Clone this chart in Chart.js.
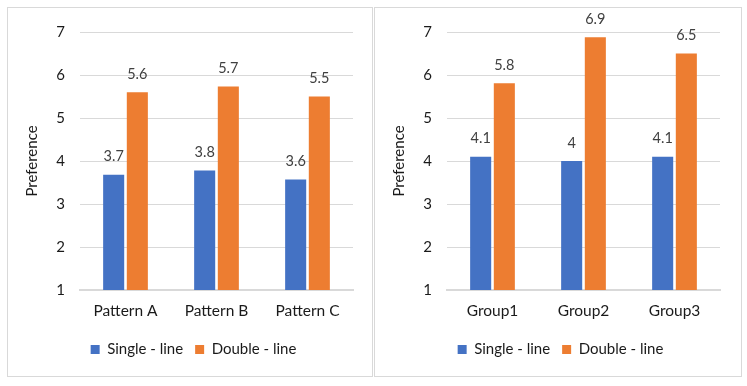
<!DOCTYPE html>
<html>
<head>
<meta charset="utf-8">
<script src="https://cdn.jsdelivr.net/npm/chart.js@4/dist/chart.umd.min.js"></script>
<style>
  body { margin: 0; background: #fff; }
  .panel { position: absolute; top: 7px; height: 370px; border: 1px solid #d9d9d9; box-sizing: border-box; }
  #p1 { left: 7px; width: 366px; }
  #p2 { left: 374px; width: 368px; }
  canvas { display: block; }
</style>
</head>
<body>
<div class="panel" id="p1"><canvas id="chartA" width="364" height="368"></canvas></div>
<div class="panel" id="p2"><canvas id="chartB" width="366" height="368"></canvas></div>
<script>
const patterns = ['Pattern A', 'Pattern B', 'Pattern C'];
const patternSingle = [3.68, 3.78, 3.57];
const patternDouble = [5.6, 5.73, 5.5];

const groups = ['Group1', 'Group2', 'Group3'];
const groupSingle = [4.1, 4.0, 4.1];
const groupDouble = [5.81, 6.88, 6.5];

const seriesNames = ['Single - line', 'Double - line'];
const yTicks = [1, 2, 3, 4, 5, 6, 7];

const blue = '#4472C4';
const orange = '#ED7D31';
const fontFamily = 'Lato, "Open Sans", sans-serif';

// draws the value above each bar, like the excel data labels
const barLabels = {
  id: 'barLabels',
  afterDatasetsDraw(chart) {
    const ctx = chart.ctx;
    ctx.save();
    ctx.font = '14.5px ' + fontFamily;
    ctx.fillStyle = '#404040';
    ctx.textAlign = 'center';
    ctx.textBaseline = 'middle';
    chart.data.datasets.forEach((ds, i) => {
      chart.getDatasetMeta(i).data.forEach((bar, j) => {
        const txt = String(Number(ds.data[j].toFixed(1)));
        ctx.fillText(txt, bar.x, bar.y - 18);
      });
    });
    ctx.restore();
  }
};

function makeChart(id, cats, single, double, rightPad) {
  return new Chart(document.getElementById(id), {
    type: 'bar',
    data: {
      labels: cats,
      datasets: [
        { label: seriesNames[0], data: single, backgroundColor: blue },
        { label: seriesNames[1], data: double, backgroundColor: orange }
      ]
    },
    options: {
      responsive: false,
      animation: false,
      categoryPercentage: 0.52,
      barPercentage: 0.89,
      // left padding mostly there to push the legend to the right like excel does
      layout: { padding: { top: 21, right: rightPad, bottom: 9, left: 26 } },
      plugins: {
        legend: {
          position: 'bottom',
          labels: {
            boxWidth: 9,
            boxHeight: 9,
            padding: 12,
            color: '#1a1a1a',
            font: { family: fontFamily, size: 15 }
          }
        },
        tooltip: { enabled: false }
      },
      scales: {
        x: {
          grid: { display: false, drawTicks: false },
          border: { color: '#d9d9d9', width: 2 },
          ticks: { padding: 12, color: '#1a1a1a', font: { family: fontFamily, size: 15.5 } },
          afterFit: (scale) => { scale.height = 40; }
        },
        y: {
          min: 1,
          max: 7,
          afterBuildTicks: (scale) => { scale.ticks = yTicks.map(v => ({ value: v })); },
          grid: { color: '#d9d9d9', drawTicks: false },
          border: { display: false },
          ticks: { padding: 15, color: '#1a1a1a', font: { family: fontFamily, size: 15 } },
          title: {
            display: true,
            text: 'Preference',
            color: '#1a1a1a',
            padding: { top: -11, bottom: 0 },
            font: { family: fontFamily, size: 15 }
          },
          afterFit: (scale) => { scale.width = 46; }
        }
      }
    },
    plugins: [barLabels]
  });
}

makeChart('chartA', patterns, patternSingle, patternDouble, 19);
makeChart('chartB', groups, groupSingle, groupDouble, 21);
</script>
</body>
</html>
